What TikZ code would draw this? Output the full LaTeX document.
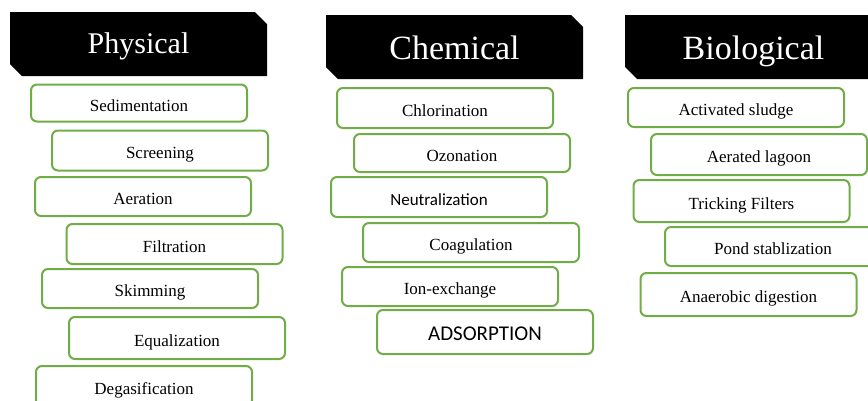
\documentclass[tikz,border=0pt]{standalone}
\usepackage{fontspec}
\setmainfont{Liberation Serif}
\newfontfamily\carlito{Carlito}
\usetikzlibrary{shapes.misc}

\definecolor{boxgreen}{HTML}{70AD47}

\tikzset{
  header/.style={chamfered rectangle, chamfered rectangle corners={north east,south west},
    chamfered rectangle sep=6pt, fill=black, text=white, minimum width=257pt,
    minimum height=64pt, inner sep=0pt, outer sep=0pt, text depth=0pt},
  process/.style={draw=boxgreen, line width=2pt, rounded corners=6pt, fill=white,
    minimum width=216pt, inner sep=0pt, text height=18pt, text depth=2pt,
    font=\fontsize{17}{20}\selectfont},
  sansprocess/.style={process, font=\carlito\fontsize{17}{20}\selectfont},
  capsprocess/.style={process, font=\carlito\fontsize{21}{24}\selectfont}
}

\begin{document}
\begin{tikzpicture}[x=1pt,y=-1pt]

  \useasboundingbox (0,0) rectangle (868,400);

  \node[header, text height=18pt, font=\fontsize{30}{34}\selectfont] (physical) at (138.5,44) {Physical};
  \node[header, text height=24pt, font=\fontsize{34}{38}\selectfont] (chemical) at (454.5,47) {Chemical};
  \node[header, text height=24pt, font=\fontsize{34}{38}\selectfont] (biological) at (753.5,47) {Biological};

  \foreach \i/\x/\y/\h/\lbl in {1/139/103/37/Sedimentation, 2/160/150.5/40/Screening,
      3/143/196.5/39/Aeration, 4/174.5/244/40/Filtration, 5/150/288.5/39/Skimming,
      6/177/338/42/Equalization, 7/144/386/40/Degasification}
    \node[process, minimum height=\h pt] (phys\i) at (\x,\y) {\lbl};

  \foreach \i/\x/\y/\h/\kind/\lbl in {1/445/108/40/process/Chlorination,
      2/462/153/38/process/Ozonation, 3/439/197/40/sansprocess/Neutralization,
      4/471/242.5/39/process/Coagulation, 5/450/286.5/39/process/Ion-exchange,
      6/485/332/44/capsprocess/ADSORPTION}
    \node[\kind, minimum height=\h pt] (chem\i) at (\x,\y) {\lbl};

  \foreach \i/\x/\y/\h/\lbl in {1/736/107.5/39/Activated sludge, 2/759/154.5/41/Aerated lagoon,
      3/741.5/201/42/Tricking Filters, 4/773/246.5/39/Pond stablization,
      5/748.5/294.5/43/Anaerobic digestion}
    \node[process, minimum height=\h pt] (bio\i) at (\x,\y) {\lbl};

\end{tikzpicture}
\end{document}
